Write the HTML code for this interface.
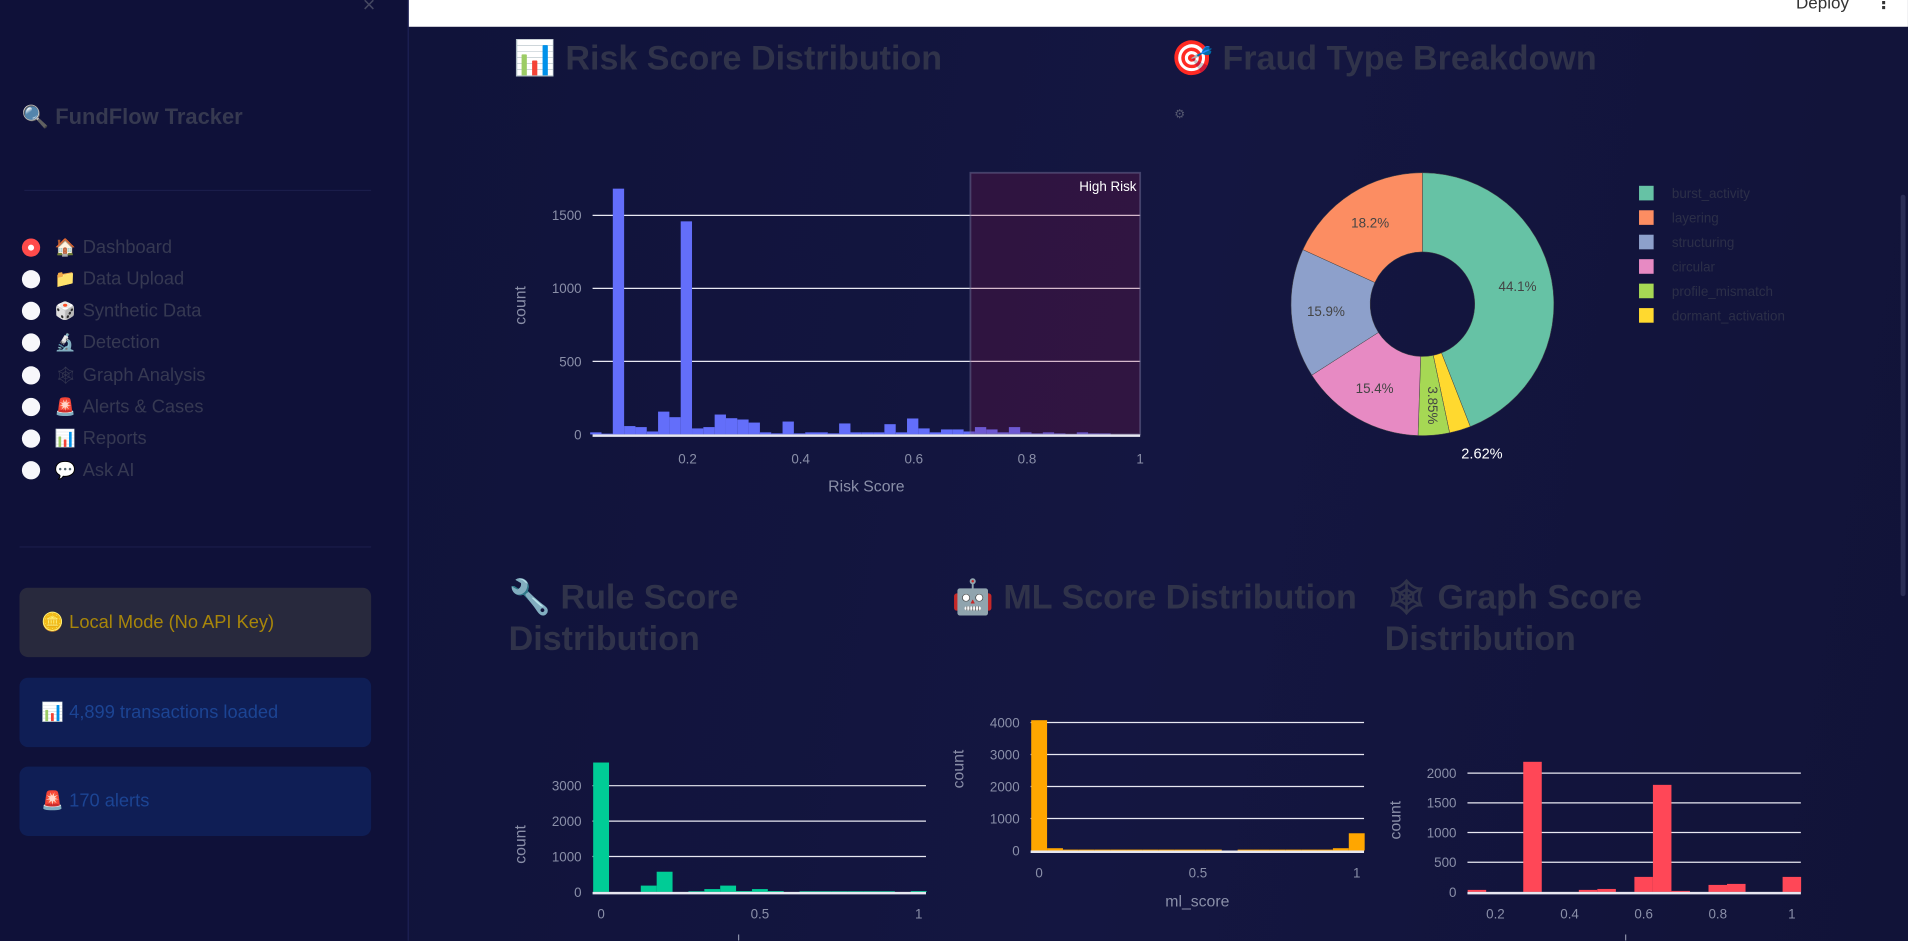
<!DOCTYPE html>
<html><head><meta charset="utf-8">
<style>
html,body{margin:0;padding:0;width:1908px;height:940px;overflow:hidden;background:#11133a;}
#wrap{position:absolute;left:0;top:0;width:1568px;height:773px;transform:scale(1.2168);transform-origin:0 0;font-family:"Liberation Sans","DejaVu Sans",sans-serif;}
#side{position:absolute;left:0;top:0;width:335px;height:773px;background:#0f1139;border-right:1px solid #1f2258;}
#main{position:absolute;left:336px;top:0;width:1232px;height:773px;background:linear-gradient(100deg,#10133a 0%,#141641 50%,#111338 100%);}
#hdr{position:absolute;left:336px;top:0;width:1232px;height:22px;background:#fff;}
.t{position:absolute;white-space:nowrap;}
.nav{position:absolute;left:18px;font-size:15px;color:#363952;white-space:nowrap;width:300px;height:20px;}
.rad{position:absolute;left:0;top:0;width:15px;height:15px;border-radius:50%;background:#f7f7fb;}
.nav .em{position:absolute;left:27px;top:-1px;font-size:14px;}
.nav .lb{position:absolute;left:50px;top:-1px;white-space:nowrap;}
.box{position:absolute;left:16px;width:289px;height:57px;border-radius:7px;font-size:15px;}
.box span{position:absolute;left:18px;top:19px;white-space:nowrap;}
.h2{position:absolute;font-size:28px;font-weight:bold;color:#30334a;line-height:34px;white-space:nowrap;}
svg text{font-family:"Liberation Sans","DejaVu Sans",sans-serif;}
</style></head><body>
<div id="wrap">
<div id="side">
  <div class="t" style="left:298px;top:-6px;font-size:18px;color:#444760">×</div>
  <div class="t" style="left:18px;top:86px;font-size:18px;font-weight:bold;color:#363950">🔍 FundFlow Tracker</div>
  <div style="position:absolute;left:20px;top:156px;width:285px;height:1px;background:#1a1d4a"></div>
  <div class="nav" style="top:196px"><div class="rad" style="background:#ff4b4b;"><div style="position:absolute;left:5px;top:5px;width:5px;height:5px;border-radius:50%;background:#fff"></div></div><span class="em">🏠</span><span class="lb">Dashboard</span></div>
  <div class="nav" style="top:222px"><div class="rad"></div><span class="em">📁</span><span class="lb">Data Upload</span></div>
  <div class="nav" style="top:248px"><div class="rad"></div><span class="em">🎲</span><span class="lb">Synthetic Data</span></div>
  <div class="nav" style="top:274px"><div class="rad"></div><span class="em">🔬</span><span class="lb">Detection</span></div>
  <div class="nav" style="top:301px"><div class="rad"></div><span class="em">🕸</span><span class="lb">Graph Analysis</span></div>
  <div class="nav" style="top:327px"><div class="rad"></div><span class="em">🚨</span><span class="lb">Alerts &amp; Cases</span></div>
  <div class="nav" style="top:353px"><div class="rad"></div><span class="em">📊</span><span class="lb">Reports</span></div>
  <div class="nav" style="top:379px"><div class="rad"></div><span class="em">💬</span><span class="lb">Ask AI</span></div>
  <div style="position:absolute;left:16px;top:449px;width:289px;height:1px;background:#1a1d4a"></div>
  <div class="box" style="top:483px;background:#28293d;color:#a8860a"><span>🪙 Local Mode (No API Key)</span></div>
  <div class="box" style="top:557px;background:#0f1e55;color:#1c4493"><span>📊 4,899 transactions loaded</span></div>
  <div class="box" style="top:630px;background:#0f1e55;color:#1c4493"><span>🚨 170 alerts</span></div>
</div>
<div id="main"></div>
<div id="hdr">
  <div class="t" style="left:1140px;top:-6px;font-size:14px;color:#333">Deploy</div>
  <div class="t" style="left:1205px;top:-6px;font-size:14px;color:#333;font-weight:bold">⋮</div>
</div>
<div style="position:absolute;left:1562px;top:160px;width:4px;height:330px;background:#2a2d55;border-radius:2px"></div>

<div class="h2" style="left:422px;top:31px">📊 Risk Score Distribution</div>
<div class="h2" style="left:962px;top:31px">🎯 Fraud Type Breakdown</div>
<div class="h2" style="left:418px;top:474px">🔧 Rule Score<br>Distribution</div>
<div class="h2" style="left:782px;top:474px">🤖 ML Score Distribution</div>
<div class="h2" style="left:1138px;top:474px">🕸 Graph Score<br>Distribution</div>
<div class="t" style="left:965px;top:89px;font-size:10px;color:#555870">⚙</div>

<svg id="charts" width="1568" height="773" style="position:absolute;left:0;top:0"></svg>
</div>

<script>
// Risk score histogram (bins of 0.02 starting 0.028)
const riskBinStart = 0.028;
const riskBinWidth = 0.02;
const riskCounts = [14,5,1683,57,50,20,156,118,1459,41,50,136,111,102,81,14,7,88,7,14,14,7,75,14,14,14,70,14,109,41,14,34,34,20,50,34,14,50,14,7,14,7,2,14,7,7];
const riskXTicks = [0.2,0.4,0.6,0.8,1];
const riskXTickLabels = ["0.2","0.4","0.6","0.8","1"];
const riskYTicks = [0,500,1000,1500];
const highRiskRange = [0.7,1.0];

// Fraud type donut
const fraudTypes = ["burst_activity","dormant_activation","profile_mismatch","circular","structuring","layering"];
const fraudShares = [44.1,2.62,3.85,15.4,15.9,18.2];
const fraudLabels = ["44.1%","2.62%","3.85%","15.4%","15.9%","18.2%"];
const fraudColors = ["#66c2a5","#ffd92f","#a6d854","#e78ac3","#8da0cb","#fc8d62"];
const legendOrder = ["burst_activity","layering","structuring","circular","profile_mismatch","dormant_activation"];

// Rule score histogram (bins of 0.05 centred on 0..1)
const ruleCenters = [0,0.05,0.1,0.15,0.2,0.25,0.3,0.35,0.4,0.45,0.5,0.55,0.6,0.65,0.7,0.75,0.8,0.85,0.9,0.95,1.0];
const ruleCounts = [3654,0,0,178,570,0,20,80,178,25,80,25,0,20,20,20,20,20,20,0,25];
const ruleYTicks = [0,1000,2000,3000];

// ML score histogram
const mlCenters = [0,0.05,0.1,0.15,0.2,0.25,0.3,0.35,0.4,0.45,0.5,0.55,0.6,0.65,0.7,0.75,0.8,0.85,0.9,0.95,1.0];
const mlCounts = [4073,73,30,30,30,30,30,30,30,30,30,30,0,30,30,30,30,30,30,73,540];
const mlYTicks = [0,1000,2000,3000,4000];

// Graph score histogram
const graphCenters = [0.15,0.2,0.25,0.3,0.35,0.4,0.45,0.5,0.55,0.6,0.65,0.7,0.75,0.8,0.85,0.9,0.95,1.0];
const graphCounts = [34,0,0,2191,0,0,34,50,0,253,1803,17,0,118,135,0,0,253];
const graphYTicks = [0,500,1000,1500,2000];
const graphXTicks = [0.2,0.4,0.6,0.8,1];

const NS = "http://www.w3.org/2000/svg";
const svg = document.getElementById('charts');
function mk(tag, attrs, parent){
  const e = document.createElementNS(NS, tag);
  for (const k in attrs) e.setAttribute(k, attrs[k]);
  (parent||svg).appendChild(e);
  return e;
}
function txt(x,y,s,attrs,parent){
  const e = mk('text', Object.assign({x:x,y:y,'font-size':11,fill:'#8a8fa8'},attrs||{}), parent);
  e.textContent = s;
  return e;
}

function histogram(cfg){
  const g = mk('g',{});
  
  
  const X = v => cfg.x0 + (v - cfg.v0) * cfg.xs;
  const Y = c => cfg.y0 - c * cfg.ys;
  cfg.yTicks.forEach(t => {
    if (t !== 0) {
      const l = mk('line',{x1:cfg.left,x2:cfg.right,y1:Y(t),y2:Y(t),stroke:'#e8e8f2','stroke-width':1},g);
      
      
    }
    const tl = txt(cfg.yLabelX, Y(t)+4, String(t), {'text-anchor':'end'}, g);
    
    
  });
  for (let i=0;i<cfg.counts.length;i++){
    const c = cfg.counts[i];
    if (c <= 0) continue;
    const a = cfg.lefts(i), b = a + cfg.bw;
    const r = mk('rect',{x:X(a),y:Y(c),width:X(b)-X(a),height:Y(0)-Y(c),fill:cfg.color},g);
    
    
  }
  if (cfg.overlay) cfg.overlay(g, X, Y);
  const z = mk('line',{x1:cfg.left,x2:cfg.right,y1:Y(0)+1,y2:Y(0)+1,stroke:'#e6e6f0','stroke-width':2},g);
  
  
  cfg.xTicks.forEach((t,i) => {
    const tl = txt(X(t), cfg.xLabelY, cfg.xTickLabels[i], {'text-anchor':'middle'}, g);
    
    
  });
  const yt = txt(cfg.yTitle[0], cfg.yTitle[1], 'count', {'text-anchor':'middle','font-size':13,transform:'rotate(-90 '+cfg.yTitle[0]+' '+cfg.yTitle[1]+')'}, g);
  
  
  if (cfg.xTitle){
    const xt = txt(cfg.xTitle[0], cfg.xTitle[1], cfg.xTitle[2], {'text-anchor':'middle','font-size':13}, g);
    
    
  }
}

histogram({
  name:'risk-score-chart', x0:472, v0:0, xs:465, y0:357, ys:0.12, left:487, right:937,
  yTicks:riskYTicks, yLabelX:478, counts:riskCounts, bw:riskBinWidth,
  lefts:i=>riskBinStart + i*riskBinWidth, color:'#636efa',
  xTicks:riskXTicks, xTickLabels:riskXTickLabels, xLabelY:381,
  yTitle:[432,251], xTitle:[712,404,'Risk Score'],
  overlay:(g,X,Y)=>{
    const r = mk('rect',{x:X(highRiskRange[0]),y:142,width:X(highRiskRange[1])-X(highRiskRange[0]),height:Y(0)-142,fill:'rgba(150,20,70,0.22)',stroke:'rgba(120,120,160,0.45)','stroke-width':1.5},g);
    
    
    const t = txt(X(highRiskRange[1])-3,157,'High Risk',{'text-anchor':'end',fill:'#ffffff'},g);
    
    
  }
});

histogram({
  name:'rule-score-chart', x0:494, v0:0, xs:261, y0:733, ys:0.0291, left:487, right:761,
  yTicks:ruleYTicks, yLabelX:478, counts:ruleCounts, bw:0.05,
  lefts:i=>ruleCenters[i]-0.025, color:'#00cc96',
  xTicks:[0,0.5,1], xTickLabels:["0","0.5","1"], xLabelY:755,
  yTitle:[432,694], xTitle:null
});
histogram({
  name:'ml-score-chart', x0:854, v0:0, xs:261, y0:699, ys:0.0263, left:847, right:1121,
  yTicks:mlYTicks, yLabelX:838, counts:mlCounts, bw:0.05,
  lefts:i=>mlCenters[i]-0.025, color:'#ffa600',
  xTicks:[0,0.5,1], xTickLabels:["0","0.5","1"], xLabelY:721,
  yTitle:[792,632], xTitle:[984,745,'ml_score']
});
histogram({
  name:'graph-score-chart', x0:1229, v0:0.2, xs:304.5, y0:733, ys:0.0488, left:1206, right:1480,
  yTicks:graphYTicks, yLabelX:1197, counts:graphCounts, bw:0.05,
  lefts:i=>graphCenters[i]-0.025, color:'#ff4757',
  xTicks:graphXTicks, xTickLabels:["0.2","0.4","0.6","0.8","1"], xLabelY:755,
  yTitle:[1151,674], xTitle:null
});
[[607,768],[1336,768]].forEach(p=>{
  const l = mk('line',{x1:p[0],x2:p[0],y1:p[1],y2:773,stroke:'#8a8fa8','stroke-width':1});
  
  
});

(function(){
  const cx=1169, cy=250, R=108, r=43;
  const g = mk('g',{});
  
  
  const total = fraudShares.reduce((a,b)=>a+b,0);
  let ang = 0;
  const pt=(a,rad)=>[cx+rad*Math.sin(a), cy-rad*Math.cos(a)];
  fraudShares.forEach((v,i)=>{
    const a0 = ang, a1 = ang + v/total*2*Math.PI; ang = a1;
    const large = (a1-a0)>Math.PI?1:0;
    const p0=pt(a0,R),p1=pt(a1,R),q1=pt(a1,r),q0=pt(a0,r);
    const d=`M${p0[0]},${p0[1]} A${R},${R} 0 ${large} 1 ${p1[0]},${p1[1]} L${q1[0]},${q1[1]} A${r},${r} 0 ${large} 0 ${q0[0]},${q0[1]} Z`;
    const s = mk('path',{d:d,fill:fraudColors[i],stroke:'#444','stroke-width':0.4},g);
    
    
    const mid=(a0+a1)/2;
    let lt;
    if (fraudTypes[i]==='dormant_activation'){
      const p=pt(mid,R+14);
      lt = txt(p[0]+14,p[1]+10,fraudLabels[i],{'text-anchor':'middle',fill:'#ffffff','font-size':12},g);
    } else if (fraudTypes[i]==='profile_mismatch'){
      const p=pt(mid,(R+r)/2+8);
      lt = txt(p[0],p[1],fraudLabels[i],{'text-anchor':'middle',fill:'#444','font-size':11,'dominant-baseline':'middle',transform:`rotate(90 ${p[0]} ${p[1]})`},g);
    } else {
      const p=pt(mid,(R+r)/2+4);
      lt = txt(p[0],p[1]+4,fraudLabels[i],{'text-anchor':'middle',fill:'#444','font-size':11},g);
    }
    
    
  });
  legendOrder.forEach((nm,j)=>{
    const i = fraudTypes.indexOf(nm);
    const y = 158.7 + j*20.1;
    const sw = mk('rect',{x:1347,y:y-6,width:12,height:12,fill:fraudColors[i]},g);
    
    
    const t = txt(1374,y+4,nm,{fill:'#2c2f48','font-size':11},g);
    
    
  });
})();
</script>
</body></html>
